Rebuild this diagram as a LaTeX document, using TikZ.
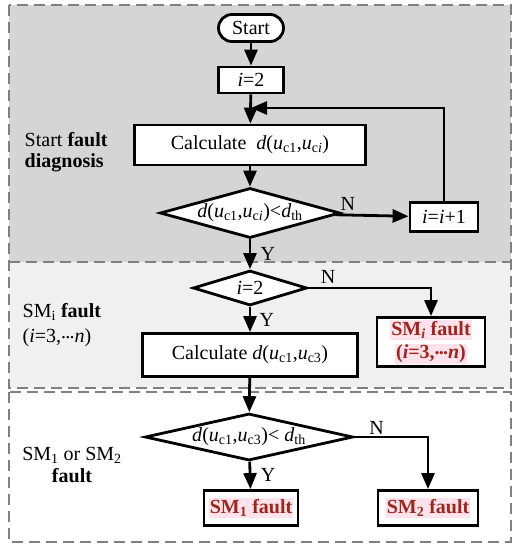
\documentclass[tikz,border=0pt]{standalone}
\usepackage{fontspec}
\setmainfont{Liberation Serif}
\usetikzlibrary{shapes.geometric,arrows.meta}
\definecolor{zonedark}{RGB}{213,213,213}
\definecolor{zonelight}{RGB}{240,240,240}
\definecolor{zoneline}{RGB}{128,128,128}
\definecolor{faultred}{RGB}{160,38,28}
\definecolor{hlpink}{RGB}{255,226,235}
\newcommand{\uc}[1]{\textit{u}\textsubscript{c#1}}
\newcommand{\dth}{\textit{d}\textsubscript{th}}
\newcommand{\hlt}[1]{{\setlength{\fboxsep}{1pt}\colorbox{hlpink}{#1}}}
\newcommand{\mdots}{\raisebox{0.22em}{.\kern-0.04em.\kern-0.04em.}}

\begin{document}
\begin{tikzpicture}[x=1pt, y=-1pt, line join=miter, font=\fontsize{20}{21}\selectfont, >={Triangle[length=16pt,width=13pt]}, line width=2.8pt]
	\tikzset{box/.style={draw, fill=white, inner sep=2pt},
		decision/.style={draw, fill=white, diamond, inner sep=0pt},
		zone/.style={draw=zoneline, line width=1.6pt, dash pattern=on 11pt off 6pt},
		fault/.style={box, text=faultred, font=\fontsize{20}{23}\selectfont\bfseries, align=center}}
	\useasboundingbox (0,0) rectangle (524,550);
	% background zones
	\fill[zonedark] (9,5) rectangle (511,262);
	\fill[zonelight] (9,262) rectangle (511,388);
	\draw[zone] (9,5) rectangle (511,388);
	\draw[zone] (9,262) -- (511,262);
	\draw[zone] (9,392) rectangle (511,542);
	% zone labels
	\node[anchor=west, align=left] (lab1) at (20,152) {Start \textbf{fault}\\\textbf{diagnosis}};
	\node[anchor=west, align=left, font=\fontsize{20}{25}\selectfont] (lab2) at (18,325) {SM\textsubscript{i} \textbf{fault}\\(\textit{i}=3,\mdots\textit{n})};
	\node[align=center, font=\fontsize{20}{22}\selectfont] (lab3) at (72,465) {SM\textsubscript{1} or SM\textsubscript{2}\\\textbf{fault}};
	% flow
	\node[draw, fill=white, rounded corners=13.5pt, minimum width=65pt, minimum height=27pt] (start) at (251,28) {Start};
	\node[box, minimum width=65pt, minimum height=26pt] (init) at (251,80) {\textit{i}=2};
	\node[box, minimum width=231pt, minimum height=40pt] (calc1) at (250,145) {Calculate\ \ \textit{d}(\uc{1},\uc{\textit{i}})};
	\node[decision, minimum width=180pt, minimum height=50pt, aspect=3.6] (dec1) at (250,213) {\textit{d}(\uc{1},\uc{\textit{i}})<\dth};
	\node[box, minimum width=68pt, minimum height=29pt] (incr) at (444,217) {\textit{i}=\textit{i}+1};
	\node[decision, minimum width=114pt, minimum height=35pt, aspect=3.3] (dec2) at (250,288) {\textit{i}=2};
	\node[fault, minimum width=108pt, minimum height=49pt] (smi) at (431,342) {\hlt{SM\textsubscript{\textit{i}} fault}\\\hlt{(\textit{i}=3,\mdots\textit{n})}};
	\node[box, minimum width=215pt, minimum height=43pt] (calc2) at (250,355) {Calculate \textit{d}(\uc{1},\uc{3})};
	\node[decision, minimum width=208pt, minimum height=47pt, aspect=4.4] (dec3) at (249,437) {\textit{d}(\uc{1},\uc{3})< \dth};
	\node[fault, minimum width=94pt, minimum height=35pt] (smone) at (251,508) {\hlt{SM\textsubscript{1} fault}};
	\node[fault, minimum width=100pt, minimum height=35pt] (smtwo) at (428,508) {\hlt{SM\textsubscript{2} fault}};
	\coordinate (back) at (251,108);
	% connectors
	\draw[->] (start) -- (init);
	\draw[->] (init) -- (calc1);
	\draw[->] (calc1) -- (dec1);
	\draw[->] (dec1) -- node[pos=0.17, above] {N} (incr);
	\draw[->] (incr.north) |- (back);
	\draw[->] (dec1) -- node[right=6pt] {Y} (dec2);
	\draw[->] (dec2.east) -| node[pos=0.08, above] {N} (smi.north);
	\draw[->] (dec2) -- node[right=5pt] {Y} (calc2);
	\draw[->] (calc2) -- (dec3);
	\draw[->] (dec3.east) -| node[pos=0.15, above, inner sep=1pt] {N} (smtwo.north);
	\draw[->] (dec3) -- node[right=6pt] {Y} (smone);
\end{tikzpicture}
\end{document}
